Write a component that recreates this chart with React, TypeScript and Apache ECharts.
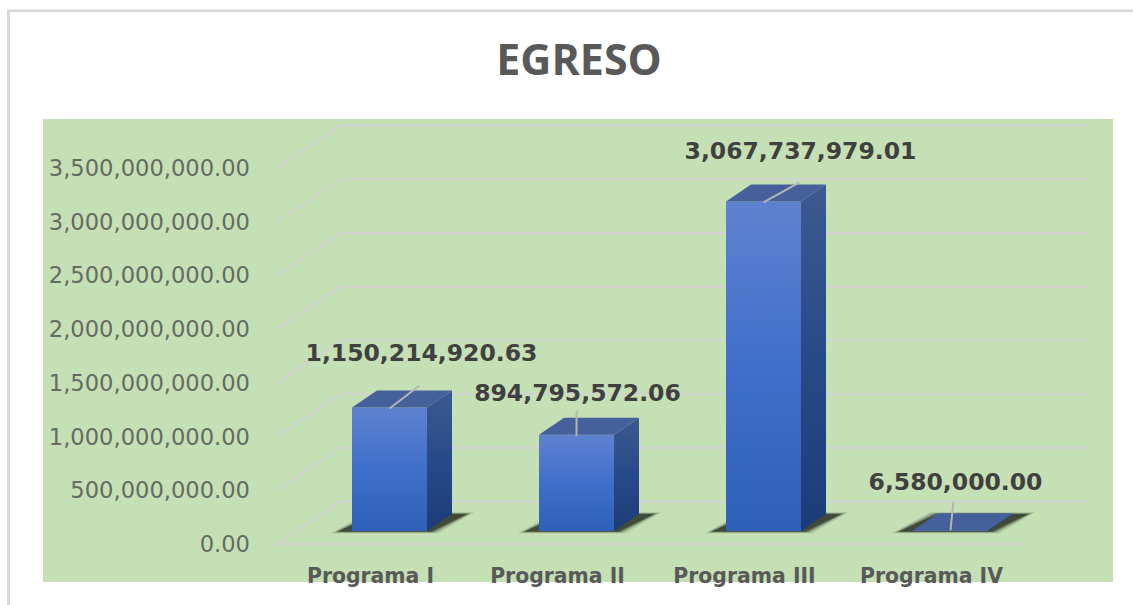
import React, { useEffect, useRef } from "react";
import * as echarts from "echarts";

const titleText = "EGRESO";
const categories = ["Programa I", "Programa II", "Programa III", "Programa IV"];
const egresoValues = [1150214920.63, 894795572.06, 3067737979.01, 6580000.0];
const yTicks = [0, 500000000, 1000000000, 1500000000, 2000000000, 2500000000, 3000000000, 3500000000];

// Oblique projection used to fake Excel's 3D columns
const WALL_DX = 64;
const WALL_DY = -42.5;
const BAR_W = 75;
const BAR_DX = 25;
const BAR_DY = -17;
const BAR_SHIFT_X = 19;
const BAR_SHIFT_Y = -13;
// Leader end and label centre, relative to the centre of the bar's front top edge
const leaderEnds = [[30, -22], [0, -24], [36, -19], [3, -29]];
const labelOffsets = [[32, -54], [1, -42], [37, -50], [5, -48]];
// Soft shadow: [grow in px, opacity], outermost first
const shadowLayers = [[7, 0.2], [4, 0.35], [1.5, 0.6], [0, 1]];

const fmt = (v: number) =>
  v.toLocaleString("en-US", { minimumFractionDigits: 2, maximumFractionDigits: 2 });

const vGrad = (stops: [number, string][]) =>
  new echarts.graphic.LinearGradient(0, 0, 0, 1, stops.map(([offset, color]) => ({ offset, color })));

function renderWall(params: any, api: any) {
  const cs = params.coordSys;
  const y = api.coord([0, api.value(1)])[1];
  return {
    type: "polyline",
    shape: {
      points: [
        [cs.x, y],
        [cs.x + WALL_DX, y + WALL_DY],
        [cs.x + cs.width + WALL_DX, y + WALL_DY],
      ],
    },
    style: { stroke: "#d2d2d0", lineWidth: 2, fill: "none" },
  };
}

function renderBar(params: any, api: any) {
  const i = api.value(0);
  const v = api.value(1);
  const base = api.coord([i, 0]);
  const top = api.coord([i, v]);
  const cx = base[0] + BAR_SHIFT_X;
  const by = base[1] + BAR_SHIFT_Y;
  const ty = top[1] + BAR_SHIFT_Y;
  const x0 = cx - BAR_W / 2;
  const x1 = cx + BAR_W / 2;
  const lead = leaderEnds[i];
  const lab = labelOffsets[i];
  const flat = by - ty < 3;
  return {
    type: "group",
    children: [
      ...shadowLayers.map(([g, opacity]) => ({
        type: "polygon",
        shape: {
          points: [
            [x0 - 14 - g, by + 0.5 + g * 0.25],
            [x1 + 4 + g, by + 0.5 + g * 0.25],
            [x1 + 40 + g, by - 17 - g * 0.25],
            [x0 + 24 - g, by - 17 - g * 0.25],
          ],
        },
        style: { fill: "#3f4b38", opacity },
      })),
      {
        type: "polygon",
        shape: {
          points: [
            [x1, ty],
            [x1 + BAR_DX, ty + BAR_DY],
            [x1 + BAR_DX, by + BAR_DY],
            [x1, by],
          ],
        },
        style: { fill: vGrad([[0, "#3d5a90"], [0.5, "#274a88"], [1, "#1c3c78"]]) },
      },
      {
        type: "rect",
        shape: { x: x0, y: ty, width: BAR_W, height: by - ty },
        style: { fill: vGrad([[0, "#5f82cf"], [0.5, "#3f6fca"], [1, "#2f60b8"]]) },
      },
      {
        type: "polygon",
        shape: {
          points: [
            [x0, ty],
            [x0 + BAR_DX, ty + BAR_DY],
            [x1 + BAR_DX, ty + BAR_DY],
            [x1, ty],
          ],
        },
        style: { fill: "#46609b" },
      },
      {
        type: "line",
        shape: { x1: cx, y1: ty + (flat ? 0 : 1), x2: cx + lead[0], y2: ty + lead[1] },
        style: { stroke: "#b4b6b4", lineWidth: 2 },
      },
      {
        type: "text",
        x: cx + lab[0],
        y: ty + lab[1],
        style: {
          text: fmt(v),
          font: "bold 23.5px 'DejaVu Sans'",
          fill: "#404040",
          align: "center",
          verticalAlign: "middle",
        },
      },
    ],
  };
}

export default function App() {
  const ref = useRef<HTMLDivElement>(null);
  useEffect(() => {
    const chart = echarts.init(ref.current!, null, { renderer: "svg" });
    chart.setOption({
      animation: false,
      backgroundColor: "#ffffff",
      title: {
        text: titleText,
        left: 574,
        top: 32,
        textAlign: "center",
        textStyle: { fontFamily: "Open Sans", fontWeight: "bold", fontSize: 43, color: "#595959" },
      },
      graphic: {
        elements: [
          { type: "rect", z: -10, silent: true, shape: { x: 7, y: 9.5, width: 1126, height: 2.5 }, style: { fill: "#d9d9d9" } },
          { type: "rect", z: -10, silent: true, shape: { x: 7, y: 9.5, width: 3, height: 596 }, style: { fill: "#d9d9d9" } },
          { type: "rect", z: -10, silent: true, shape: { x: 43, y: 119, width: 1070, height: 463 }, style: { fill: "#c5e0b4" } },
        ],
      },
      grid: { left: 277, top: 168, width: 748, height: 376 },
      xAxis: {
        type: "category",
        data: categories,
        axisTick: { show: false },
        axisLine: { show: false },
        axisLabel: {
          margin: 22,
          interval: 0,
          fontFamily: "DejaVu Sans",
          fontWeight: "bold",
          fontSize: 20.4,
          color: "#595959",
        },
      },
      yAxis: {
        type: "value",
        min: 0,
        max: 3500000000,
        interval: 500000000,
        splitLine: { show: false },
        axisLine: { show: false },
        axisTick: { show: false },
        axisLabel: {
          margin: 27,
          formatter: (v: number) => fmt(v),
          fontFamily: "DejaVu Sans",
          fontSize: 22.6,
          color: "#666b64",
        },
      },
      series: [
        {
          type: "custom",
          name: "Rejilla",
          z: 1,
          silent: true,
          renderItem: renderWall,
          encode: { x: 0, y: 1 },
          data: yTicks.map((t) => [0, t]),
        },
        {
          type: "custom",
          name: "Rejilla base",
          z: 1,
          silent: true,
          renderItem: (params: any, api: any) => {
            const cs = params.coordSys;
            const y = api.coord([0, 0])[1];
            return {
              type: "line",
              shape: { x1: cs.x, y1: y, x2: cs.x + cs.width, y2: y },
              style: { stroke: "#d2d2d0", lineWidth: 2 },
            };
          },
          encode: { x: 0, y: 1 },
          data: [[0, 0]],
        },
        {
          type: "custom",
          name: "EGRESO",
          z: 3,
          renderItem: renderBar,
          encode: { x: 0, y: 1 },
          data: egresoValues.map((v, i) => [i, v]),
        },
      ],
    });
    return () => chart.dispose();
  }, []);
  return <div ref={ref} style={{ position: "fixed", left: 0, top: 0, width: 1133, height: 605 }} />;
}
